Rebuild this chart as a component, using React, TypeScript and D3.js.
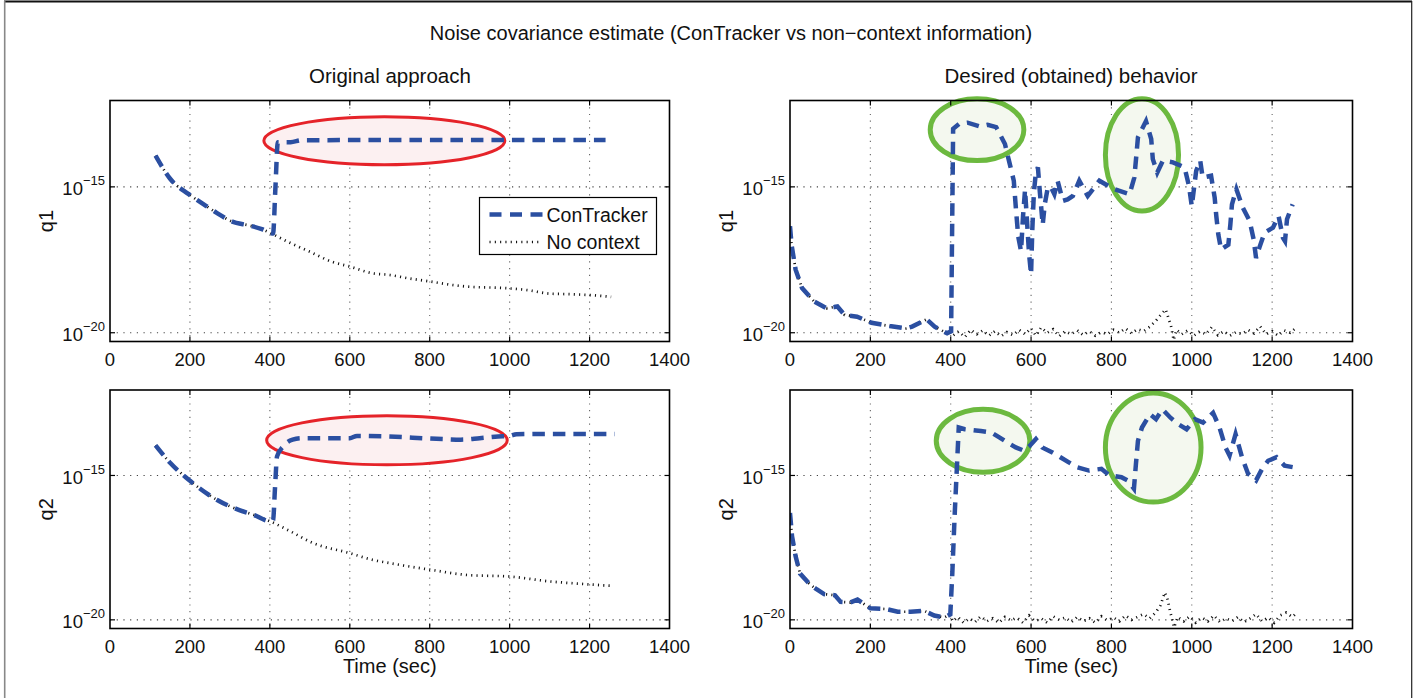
import React from "react";
import * as d3 from "d3";

// ---------- DATA (time in sec, value as log10 of the covariance) ----------
const xTickValues = [0, 200, 400, 600, 800, 1000, 1200, 1400];
const yTickExponents = [-15, -20];

// Original approach, q1
const q1OrigConTrackerT = [114, 151, 197, 240, 267, 304, 350, 380, 401, 408, 414, 420, 452, 480, 1240];
const q1OrigConTrackerE = [-13.93, -14.73, -15.25, -15.65, -15.89, -16.18, -16.33, -16.45, -16.58, -16.6, -15.0, -13.47, -13.47, -13.4, -13.39];
const q1OrigNoContextT = [114, 151, 197, 240, 267, 304, 350, 380, 401, 452, 498, 554, 600, 656, 700, 749, 804, 860, 906, 952, 999, 1045, 1101, 1156, 1203, 1254];
const q1OrigNoContextE = [-13.93, -14.73, -15.25, -15.65, -15.89, -16.18, -16.33, -16.45, -16.58, -16.93, -17.21, -17.56, -17.73, -17.96, -18.02, -18.14, -18.25, -18.37, -18.43, -18.45, -18.48, -18.54, -18.66, -18.68, -18.71, -18.77];

// Original approach, q2
const q2OrigConTrackerT = [114, 151, 197, 267, 322, 359, 401, 408, 413, 418, 433, 457, 480, 600, 618, 693, 786, 832, 878, 925, 971, 999, 1017, 1110, 1263];
const q2OrigConTrackerE = [-13.96, -14.57, -15.15, -15.84, -16.19, -16.36, -16.59, -16.55, -15.4, -14.34, -14.0, -13.76, -13.71, -13.71, -13.63, -13.65, -13.71, -13.74, -13.76, -13.71, -13.65, -13.63, -13.57, -13.56, -13.56];
const q2OrigNoContextT = [114, 151, 197, 267, 322, 359, 401, 452, 508, 600, 656, 702, 804, 897, 999, 1101, 1175, 1254];
const q2OrigNoContextE = [-13.96, -14.57, -15.15, -15.84, -16.19, -16.36, -16.59, -16.94, -17.34, -17.69, -17.92, -18.04, -18.27, -18.45, -18.5, -18.67, -18.75, -18.82];

// Desired behavior, q1
const q1DesConTrackerT = [0, 4, 14, 30, 60, 91, 110, 118, 136, 167, 203, 248, 289, 304, 340, 360, 391, 401, 406, 421, 442, 472, 492, 513, 535, 546, 557, 562, 568, 575, 580, 585, 590, 595, 600, 603, 607, 612, 617, 622, 629, 634, 642, 650, 658, 666, 679, 691, 704, 720, 741, 770, 807, 845, 857, 862, 866, 886, 899, 903, 914, 928, 953, 982, 993, 1000, 1011, 1021, 1027, 1048, 1057, 1061, 1066, 1073, 1091, 1096, 1100, 1111, 1127, 1144, 1154, 1160, 1168, 1181, 1202, 1216, 1227, 1232, 1237, 1251];
const q1DesConTrackerE = [-16.35, -17.0, -17.84, -18.47, -18.93, -19.16, -19.12, -19.1, -19.39, -19.45, -19.66, -19.77, -19.85, -19.79, -19.54, -19.79, -20.02, -19.95, -13.01, -12.84, -12.8, -12.93, -12.87, -12.95, -13.53, -14.16, -14.79, -15.7, -16.7, -17.2, -16.0, -15.1, -16.2, -17.3, -18.0, -16.5, -15.2, -14.5, -14.33, -15.2, -16.3, -15.6, -15.0, -15.02, -15.25, -14.79, -15.48, -15.43, -15.31, -14.79, -15.31, -14.79, -15.08, -15.25, -14.68, -13.93, -13.3, -12.75, -13.36, -14.05, -14.51, -14.1, -14.16, -14.33, -14.97, -15.66, -14.45, -14.1, -14.68, -14.62, -15.37, -16.0, -16.63, -17.15, -16.98, -16.29, -15.6, -15.08, -15.71, -16.17, -16.8, -17.44, -17.09, -16.57, -16.4, -16.0, -16.75, -16.86, -16.11, -15.6];
const q1DesNoContextT = [405, 420, 435, 450, 465, 480, 495, 510, 525, 540, 555, 570, 585, 600, 612, 625, 640, 655, 670, 685, 700, 715, 730, 745, 760, 775, 790, 805, 820, 835, 850, 865, 880, 895, 910, 925, 935, 942, 948, 955, 962, 975, 990, 1005, 1020, 1035, 1050, 1065, 1080, 1095, 1110, 1125, 1140, 1155, 1170, 1185, 1200, 1215, 1230, 1245, 1258];
const q1DesNoContextE = [-20.1, -19.95, -20.15, -19.9, -20.05, -19.92, -20.1, -19.95, -20.12, -19.98, -20.08, -19.9, -20.05, -19.85, -20.1, -19.82, -20.0, -19.88, -20.12, -19.95, -20.05, -19.92, -20.08, -19.95, -20.1, -19.98, -20.05, -19.9, -20.0, -19.85, -20.02, -19.88, -19.95, -19.8, -19.6, -19.35, -19.2, -19.5, -19.75, -20.25, -19.9, -20.05, -19.92, -20.1, -19.95, -20.05, -19.8, -20.08, -19.95, -20.1, -19.98, -20.05, -19.9, -20.02, -19.78, -20.05, -19.95, -20.1, -19.92, -20.0, -19.85];

// Desired behavior, q2
const q2DesConTrackerT = [0, 5, 14, 25, 50, 66, 85, 112, 126, 150, 168, 200, 241, 268, 300, 334, 359, 384, 399, 404, 410, 415, 420, 435, 455, 475, 501, 521, 541, 562, 582, 597, 612, 628, 653, 673, 693, 714, 744, 775, 795, 825, 840, 856, 861, 866, 876, 896, 911, 927, 947, 967, 987, 1008, 1028, 1053, 1069, 1084, 1094, 1109, 1125, 1140, 1160, 1175, 1190, 1211, 1231, 1251];
const q2DesConTrackerE = [-16.3, -17.1, -17.8, -18.4, -18.78, -18.94, -19.11, -19.15, -19.38, -19.4, -19.3, -19.6, -19.63, -19.72, -19.72, -19.69, -19.85, -19.92, -19.81, -18.38, -16.32, -14.83, -13.34, -13.4, -13.43, -13.46, -13.51, -13.68, -13.86, -14.03, -14.14, -13.97, -13.74, -14.03, -14.2, -14.37, -14.54, -14.71, -14.83, -14.77, -15.0, -15.06, -15.17, -15.46, -14.6, -13.8, -13.34, -12.88, -13.05, -12.71, -13.0, -13.23, -13.4, -13.05, -13.17, -12.83, -13.34, -14.03, -14.31, -13.57, -14.37, -14.94, -15.17, -14.77, -14.49, -14.37, -14.66, -14.71];
const q2DesNoContextT = [405, 418, 432, 447, 460, 475, 490, 505, 520, 535, 550, 565, 580, 595, 610, 625, 640, 655, 670, 685, 700, 715, 730, 745, 760, 775, 790, 805, 820, 835, 850, 865, 880, 895, 910, 922, 933, 940, 946, 956, 965, 980, 995, 1010, 1025, 1040, 1055, 1070, 1085, 1100, 1115, 1130, 1145, 1160, 1175, 1190, 1205, 1220, 1235, 1250, 1258];
const q2DesNoContextE = [-20.05, -19.9, -20.1, -19.95, -20.08, -19.88, -20.05, -19.95, -20.1, -19.9, -20.02, -19.92, -20.1, -19.85, -20.05, -19.95, -20.1, -19.88, -20.0, -19.92, -20.08, -19.9, -20.05, -19.95, -20.1, -19.88, -20.02, -19.92, -20.05, -19.85, -20.0, -19.9, -19.8, -19.95, -19.75, -19.5, -19.05, -19.3, -19.7, -20.26, -19.9, -20.05, -19.88, -20.1, -19.92, -20.05, -19.85, -20.08, -19.95, -20.05, -19.9, -20.08, -19.95, -19.8, -20.05, -19.92, -20.1, -19.85, -19.75, -19.9, -19.8];

// Highlight ellipses: [tMin, tMax, expTop, expBottom]
const ellipsesOrigQ1 = [[385, 988, -12.6, -14.24]];
const ellipsesOrigQ2 = [[392, 994, -12.93, -14.63]];
const ellipsesDesQ1 = [[349, 582, -11.98, -14.1], [785, 967, -11.98, -15.83]];
const ellipsesDesQ2 = [[364, 597, -12.71, -14.89], [785, 1023, -12.14, -15.92]];

const titleText = "Noise covariance estimate (ConTracker vs non\u2212context information)";
const subTitles = ["Original approach", "Desired (obtained) behavior"];
const legendLabels = ["ConTracker", "No context"];

// ---------- LAYOUT ----------
const W = 1423;
const H = 698;
const FONT = "'Liberation Sans', Arial, Helvetica, sans-serif";
const BLUE = "#2b4fa1";
const Y_DOMAIN = [Math.pow(10, -20.3), Math.pow(10, -12.04)];
const DOT_W = 2.7;
const DOT_DASH = "1.1 4.2";

const zip = (t: number[], e: number[]) => t.map((v, i) => [v, e[i]] as [number, number]);

// the non-context estimate coincides with ConTracker before ~400 s in the desired runs
const beforeSwitch = (t: number[], e: number[]) => zip(t, e).filter((d) => d[0] <= 401);

const panels = [
  {
    id: "tl", x0: 110, x1: 669.5, y0: 100.5, y1: 341.5, ylab: "q1", xlab: false, legend: true,
    con: zip(q1OrigConTrackerT, q1OrigConTrackerE), non: zip(q1OrigNoContextT, q1OrigNoContextE),
    ell: ellipsesOrigQ1, ellColor: "#e52329", ellFill: "#fcf0f1", ellW: 3, curve: d3.curveMonotoneX,
  },
  {
    id: "tr", x0: 790, x1: 1352.5, y0: 100.5, y1: 341.5, ylab: "q1", xlab: false, legend: false,
    con: zip(q1DesConTrackerT, q1DesConTrackerE),
    non: beforeSwitch(q1DesConTrackerT, q1DesConTrackerE).concat(zip(q1DesNoContextT, q1DesNoContextE)),
    ell: ellipsesDesQ1, ellColor: "#6cb93f", ellFill: "#f4f8ef", ellW: 5, curve: d3.curveLinear,
  },
  {
    id: "bl", x0: 110, x1: 669.5, y0: 390, y1: 628.5, ylab: "q2", xlab: true, legend: false,
    con: zip(q2OrigConTrackerT, q2OrigConTrackerE), non: zip(q2OrigNoContextT, q2OrigNoContextE),
    ell: ellipsesOrigQ2, ellColor: "#e52329", ellFill: "#fcf0f1", ellW: 3, curve: d3.curveMonotoneX,
  },
  {
    id: "br", x0: 790, x1: 1352.5, y0: 390, y1: 628.5, ylab: "q2", xlab: true, legend: false,
    con: zip(q2DesConTrackerT, q2DesConTrackerE),
    non: beforeSwitch(q2DesConTrackerT, q2DesConTrackerE).concat(zip(q2DesNoContextT, q2DesNoContextE)),
    ell: ellipsesDesQ2, ellColor: "#6cb93f", ellFill: "#f4f8ef", ellW: 5, curve: d3.curveLinear,
  },
];

function Panel({ p }: { p: any }) {
  const xs = d3.scaleLinear().domain([0, 1400]).range([p.x0, p.x1]);
  const ys = d3.scaleLog().domain(Y_DOMAIN).range([p.y1, p.y0]);
  const line = d3
    .line<[number, number]>()
    .x((d) => xs(d[0]))
    .y((d) => ys(Math.pow(10, d[1])))
    .curve(p.curve);
  const innerX = xTickValues.filter((v) => v > 0 && v < 1400);
  const clipId = "clip-" + p.id;
  return (
    <g>
      <defs>
        <clipPath id={clipId}>
          <rect x={p.x0} y={p.y0} width={p.x1 - p.x0} height={p.y1 - p.y0} />
        </clipPath>
      </defs>
      <rect x={p.x0} y={p.y0} width={p.x1 - p.x0} height={p.y1 - p.y0} fill="#fff" />
      {/* grid */}
      {innerX.map((v) => (
        <line key={"gx" + v} x1={xs(v)} x2={xs(v)} y1={p.y0} y2={p.y1} stroke="#666" strokeWidth={1.1} strokeDasharray="1.2 5.5" />
      ))}
      {yTickExponents.map((e) => (
        <line key={"gy" + e} x1={p.x0} x2={p.x1} y1={ys(Math.pow(10, e))} y2={ys(Math.pow(10, e))} stroke="#444" strokeWidth={1.1} strokeDasharray="1.2 5.5" />
      ))}
      {/* highlight ellipses */}
      {p.ell.map((el: number[], i: number) => {
        const cx = (xs(el[0]) + xs(el[1])) / 2;
        const rx = (xs(el[1]) - xs(el[0])) / 2;
        const yt = ys(Math.pow(10, el[2]));
        const yb = ys(Math.pow(10, el[3]));
        return (
          <ellipse key={"el" + i} cx={cx} cy={(yt + yb) / 2} rx={rx} ry={(yb - yt) / 2} fill={p.ellFill} stroke={p.ellColor} strokeWidth={p.ellW} />
        );
      })}
      {/* series */}
      <g clipPath={`url(#${clipId})`}>
        <path d={line(p.non) || ""} fill="none" stroke="#111" strokeWidth={DOT_W} strokeDasharray={DOT_DASH} />
        <path d={line(p.con) || ""} fill="none" stroke={BLUE} strokeWidth={4.5} strokeDasharray="12.5 8" />
      </g>
      {/* box */}
      <rect x={p.x0} y={p.y0} width={p.x1 - p.x0} height={p.y1 - p.y0} fill="none" stroke="#000" strokeWidth={1.6} />
      {/* ticks */}
      {innerX.map((v) => (
        <g key={"tx" + v}>
          <line x1={xs(v)} x2={xs(v)} y1={p.y1} y2={p.y1 - 5} stroke="#000" strokeWidth={1.2} />
          <line x1={xs(v)} x2={xs(v)} y1={p.y0} y2={p.y0 + 5} stroke="#000" strokeWidth={1.2} />
        </g>
      ))}
      {yTickExponents.map((e) => (
        <g key={"ty" + e}>
          <line x1={p.x0} x2={p.x0 + 5} y1={ys(Math.pow(10, e))} y2={ys(Math.pow(10, e))} stroke="#000" strokeWidth={1.2} />
          <line x1={p.x1} x2={p.x1 - 5} y1={ys(Math.pow(10, e))} y2={ys(Math.pow(10, e))} stroke="#000" strokeWidth={1.2} />
        </g>
      ))}
      {/* tick labels */}
      {xTickValues.map((v) => (
        <text key={"lx" + v} x={xs(v)} y={p.y1 + 24} textAnchor="middle" fontSize={18.5} fontFamily={FONT} fill="#111">
          {v}
        </text>
      ))}
      {yTickExponents.map((e) => (
        <text key={"ly" + e} x={p.x0 - 5} y={ys(Math.pow(10, e)) + 8.3} textAnchor="end" fontFamily={FONT} fill="#111">
          <tspan fontSize={18.5}>10</tspan>
          <tspan fontSize={13} dy={-10}>{"\u2212" + Math.abs(e)}</tspan>
        </text>
      ))}
      {/* axis labels */}
      <text transform={`translate(${p.x0 - 57},${(p.y0 + p.y1) / 2}) rotate(-90)`} textAnchor="middle" fontSize={20} fontFamily={FONT} fill="#111">
        {p.ylab}
      </text>
      {p.xlab && (
        <text x={(p.x0 + p.x1) / 2} y={p.y1 + 44} textAnchor="middle" fontSize={20} fontFamily={FONT} fill="#111">
          Time (sec)
        </text>
      )}
      {p.legend && (
        <g>
          <rect x={p.x1 - 190} y={p.y0 + 97} width={177} height={57} fill="#fff" stroke="#000" strokeWidth={1.2} />
          <line x1={p.x1 - 180} x2={p.x1 - 127} y1={p.y0 + 114} y2={p.y0 + 114} stroke={BLUE} strokeWidth={4.5} strokeDasharray="12 8.5" />
          <line x1={p.x1 - 180} x2={p.x1 - 127} y1={p.y0 + 141.5} y2={p.y0 + 141.5} stroke="#111" strokeWidth={DOT_W} strokeDasharray={DOT_DASH} />
          <text x={p.x1 - 123} y={p.y0 + 121} fontSize={19.5} fontFamily={FONT} fill="#111">{legendLabels[0]}</text>
          <text x={p.x1 - 123} y={p.y0 + 148.5} fontSize={19.5} fontFamily={FONT} fill="#111">{legendLabels[1]}</text>
        </g>
      )}
    </g>
  );
}

export default function App() {
  return (
    <svg width={W} height={H} style={{ position: "absolute", left: 0, top: 0, background: "#fff" }}>
      <rect x={0} y={0} width={W} height={H} fill="#fff" />
      {/* figure frame */}
      <line x1={4} x2={1412} y1={1.5} y2={1.5} stroke="#111" strokeWidth={2} />
      <line x1={4.7} x2={4.7} y1={1} y2={H} stroke="#888" strokeWidth={1.6} />
      <line x1={1411.7} x2={1411.7} y1={1} y2={H} stroke="#222" strokeWidth={1.2} />
      <text x={731} y={40} textAnchor="middle" fontSize={20} fontFamily={FONT} fill="#111">{titleText}</text>
      <text x={390} y={83} textAnchor="middle" fontSize={20.5} fontFamily={FONT} fill="#111">{subTitles[0]}</text>
      <text x={1071} y={83} textAnchor="middle" fontSize={20.5} fontFamily={FONT} fill="#111">{subTitles[1]}</text>
      {panels.map((p) => (
        <Panel key={p.id} p={p} />
      ))}
    </svg>
  );
}
